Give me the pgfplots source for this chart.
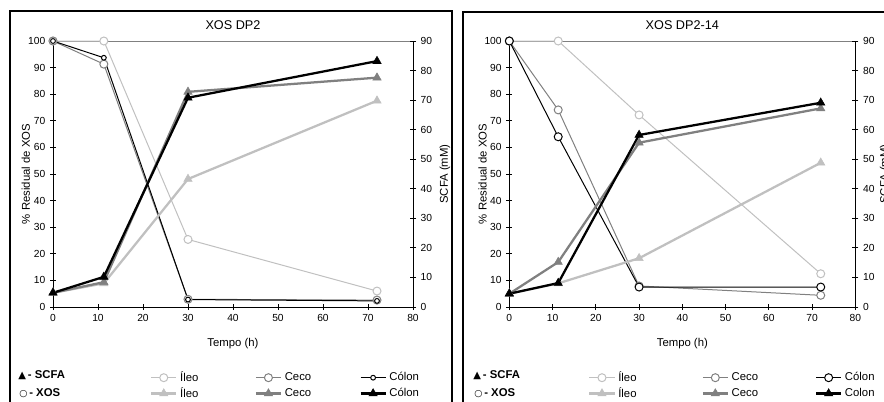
\documentclass[border=0pt]{standalone}
\usepackage{fontspec}
\setmainfont{Liberation Sans}
\newfontfamily\symfont{DejaVu Sans}
\usepackage{pgfplots}
\pgfplotsset{compat=1.18}
\definecolor{ileo}{RGB}{192,192,192}
\definecolor{ceco}{RGB}{128,128,128}

\pgfplotsset{
  panel/.style={
    scale only axis, height=199.5pt,
    xmin=0, xmax=80,
    tick align=center, major tick length=4.5pt,
    tick style={black, line width=0.6pt},
    ticklabel style={font=\fontsize{7.7}{9}\selectfont},
    /pgf/number format/assume math mode=true,
    label style={font=\fontsize{8.5}{10}\selectfont},
    axis line style={line width=0.75pt},
    clip=false,
  },
  xos/.style={line width=0.75pt, mark=*, mark size=3pt,
    mark options={fill=white, line width=0.75pt}},
  scfa/.style={line width=1.7pt, mark=triangle*, mark size=3.6pt,
    mark options={line width=0.4pt}},
  keyleg/.style={
    legend columns=3,
    legend style={anchor=north west, draw=none, fill=none,
      font=\fontsize{8.5}{10}\selectfont, inner sep=0pt,
      row sep=0pt, cells={anchor=west}, nodes={inner ysep=1.5pt}},
    legend image code/.code={\draw[mark repeat=2,mark phase=2,##1]
      plot coordinates {(0pt,0pt) (9.4pt,0pt) (18.8pt,0pt)};},
  },
}

\begin{document}
\begin{tikzpicture}
\useasboundingbox (0pt,0pt) rectangle (663pt,300.75pt);
\clip (0pt,0pt) rectangle (663pt,300.75pt);

% ---------- panel 1: XOS DP2 ----------
\begin{axis}[panel, keyleg, width=270pt, at={(39.75pt,70.5pt)}, anchor=south west,
  ymin=0, ymax=100, ytick={0,10,...,100}, xtick={0,10,...,80},
  axis x line*=bottom, axis y line*=left,
  title={XOS DP2},
  title style={at={(axis description cs:0.5,1)}, anchor=base, yshift=2.8pt,
    font=\fontsize{9.5}{11}\selectfont},
  xlabel={Tempo (h)},
  xlabel style={at={(axis description cs:0.5,0)}, anchor=base, yshift=-29.25pt},
  ylabel={\% Residual de XOS},
  ylabel style={at={(axis description cs:-0.064,0.5)}, anchor=base},
  legend style={at={(axis description cs:0.269,-0.235)}},
]
\draw[ceco, line width=0.75pt] (rel axis cs:0,1) -- (rel axis cs:1,1);
\addplot[xos, ileo] coordinates {(0,100) (11.3,100) (30,25.4) (72,6.0)};
\addlegendentry{\makebox[54pt][l]{Íleo}}
\addplot[xos, ceco] coordinates {(0,100) (11.3,91.3) (30,2.9) (72,2.6)};
\addlegendentry{\makebox[54pt][l]{Ceco}}
\addplot[xos, black, mark size=1.8pt] coordinates {(0,100) (11.3,93.7) (30,2.8) (72,2.3)};
\addlegendentry{\makebox[54pt][l]{Cólon}}
\addlegendimage{scfa, ileo}
\addlegendentry{\makebox[54pt][l]{Íleo}}
\addlegendimage{scfa, ceco}
\addlegendentry{\makebox[54pt][l]{Ceco}}
\addlegendimage{scfa, black}
\addlegendentry{\makebox[54pt][l]{Cólon}}
\end{axis}

\begin{axis}[panel, width=270pt, at={(39.75pt,70.5pt)}, anchor=south west,
  ymin=0, ymax=90, ytick={0,10,...,90},
  axis x line=none, axis y line*=right,
  ylabel={SCFA (mM)},
  ylabel style={at={(axis description cs:1.097,0.5)}, anchor=base},
]
\addplot[scfa, ileo] coordinates {(0,4.8) (11.3,8.0) (30,43.3) (72,69.8)};
\addplot[scfa, ceco] coordinates {(0,4.8) (11.3,8.4) (30,72.8) (72,77.6)};
\addplot[scfa, black] coordinates {(0,4.8) (11.3,10.2) (30,70.8) (72,83.2)};
\end{axis}

% ---------- panel 2: XOS DP2-14 ----------
\begin{axis}[panel, keyleg, width=259.5pt, at={(382pt,70.5pt)}, anchor=south west,
  ymin=0, ymax=100, ytick={0,10,...,100}, xtick={0,10,...,80},
  axis x line*=bottom, axis y line*=left,
  title={XOS DP2-14},
  title style={at={(axis description cs:0.5,1)}, anchor=base, yshift=2.8pt,
    font=\fontsize{9.5}{11}\selectfont},
  xlabel={Tempo (h)},
  xlabel style={at={(axis description cs:0.5,0)}, anchor=base, yshift=-29.25pt},
  ylabel={\% Residual de XOS},
  ylabel style={at={(axis description cs:-0.066,0.5)}, anchor=base},
  legend style={at={(axis description cs:0.2275,-0.235)}},
]
\draw[ceco, line width=0.75pt] (rel axis cs:0,1) -- (rel axis cs:1,1);
\addplot[xos, ileo] coordinates {(0,100) (11.3,100) (30,72.2) (72,12.5)};
\addlegendentry{\makebox[60.5pt][l]{Íleo}}
\addplot[xos, ceco] coordinates {(0,100) (11.3,74.1) (30,7.9) (72,4.4)};
\addlegendentry{\makebox[60.5pt][l]{Ceco}}
\addplot[xos, black] coordinates {(0,100) (11.3,64.0) (30,7.5) (72,7.5)};
\addlegendentry{\makebox[60.5pt][l]{Cólon}}
\addlegendimage{scfa, ileo}
\addlegendentry{\makebox[60.5pt][l]{Íleo}}
\addlegendimage{scfa, ceco}
\addlegendentry{\makebox[60.5pt][l]{Ceco}}
\addlegendimage{scfa, black}
\addlegendentry{\makebox[60.5pt][l]{Colon}}
\end{axis}

\begin{axis}[panel, width=259.5pt, at={(382pt,70.5pt)}, anchor=south west,
  ymin=0, ymax=90, ytick={0,10,...,90},
  axis x line=none, axis y line*=right,
  ylabel={SCFA (mM)},
  ylabel style={at={(axis description cs:1.095,0.5)}, anchor=base},
]
\addplot[scfa, ileo] coordinates {(0,4.5) (11.3,8.0) (30,16.5) (72,48.8)};
\addplot[scfa, ceco] coordinates {(0,4.5) (11.3,15.2) (30,55.6) (72,67.2)};
\addplot[scfa, black] coordinates {(0,4.5) (11.3,8.1) (30,58.2) (72,69.1)};
\end{axis}

% keys and frames
\node[anchor=base west, inner sep=0pt, font=\fontsize{8.5}{10}\selectfont] at (13.5pt,17.25pt)
  {{\symfont\fontsize{7.5}{8}\selectfont ▲}\,\textbf{- SCFA}};
\node[anchor=base west, inner sep=0pt, font=\fontsize{8.5}{10}\selectfont] at (14.25pt,3.5pt)
  {{\symfont\fontsize{7}{8}\selectfont ○}\,\textbf{- XOS}};
\node[anchor=base west, inner sep=0pt, font=\fontsize{8.5}{10}\selectfont] at (354.75pt,17.25pt)
  {{\symfont\fontsize{7.5}{8}\selectfont ▲}\,\textbf{- SCFA}};
\node[anchor=base west, inner sep=0pt, font=\fontsize{8.5}{10}\selectfont] at (355.5pt,3.5pt)
  {{\symfont\fontsize{7}{8}\selectfont ○}\,\textbf{- XOS}};
\draw[line width=1.1pt] (7.5pt,292.5pt) rectangle (339pt,-15pt);
\draw[line width=1.1pt] (347.25pt,291.75pt) rectangle (682pt,-15pt);
\end{tikzpicture}
\end{document}
